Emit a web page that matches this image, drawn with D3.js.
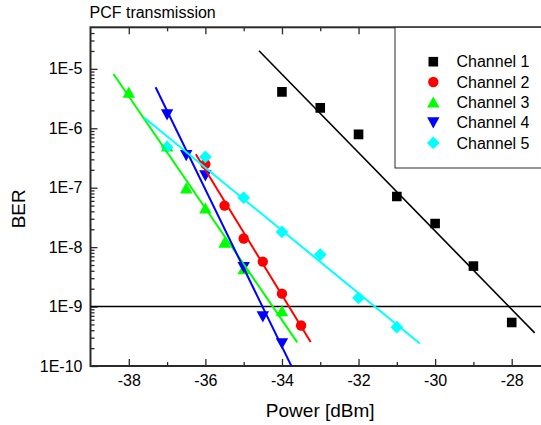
<!DOCTYPE html>
<html>
<head>
<meta charset="utf-8">
<script src="https://cdn.jsdelivr.net/npm/d3@7/dist/d3.min.js"></script>
<style>
  html, body { margin: 0; padding: 0; background: #fff; }
  svg { display: block; font-family: "Liberation Sans", Arial, sans-serif; }
</style>
</head>
<body>
<svg id="chart" width="541" height="425"></svg>
<script>
// Received optical power (dBm) and measured bit error rate per channel
const channelNames = ["Channel 1", "Channel 2", "Channel 3", "Channel 4", "Channel 5"];
const colors = ["#000000", "#ff0000", "#00ff00", "#0000ff", "#00ffff"];
const shapes = ["square", "circle", "triangleUp", "triangleDown", "diamond"];

const power1 = [-34, -33, -32, -31, -30, -29, -28];
const ber1   = [4.1e-6, 2.2e-6, 7.9e-7, 7.1e-8, 2.5e-8, 4.8e-9, 5.4e-10];

const power2 = [-36, -35.5, -35, -34.5, -34, -33.5];
const ber2   = [2.5e-7, 5.0e-8, 1.4e-8, 5.7e-9, 1.65e-9, 4.8e-10];

const power3 = [-38, -37, -36.5, -36, -35.5, -35, -34];
const ber3   = [4.0e-6, 5.0e-7, 9.8e-8, 4.5e-8, 1.2e-8, 4.3e-9, 8.4e-10];

const power4 = [-37, -36.5, -36, -35, -34.5, -34];
const ber4   = [1.7e-6, 3.5e-7, 1.6e-7, 4.6e-9, 6.8e-10, 2.4e-10];

const power5 = [-37, -36, -35, -34, -33, -32, -31];
const ber5   = [4.8e-7, 3.3e-7, 6.8e-8, 1.8e-8, 7.5e-9, 1.4e-9, 4.5e-10];

const xTickValues = [-38, -36, -34, -32, -30, -28];
const xTickLabels = ["-38", "-36", "-34", "-32", "-30", "-28"];
const yTickValues = [1e-10, 1e-9, 1e-8, 1e-7, 1e-6, 1e-5];
const yTickLabels = ["1E-10", "1E-9", "1E-8", "1E-7", "1E-6", "1E-5"];
const berThreshold = 1e-9;

const powers = [power1, power2, power3, power4, power5];
const bers = [ber1, ber2, ber3, ber4, ber5];

const svg = d3.select("#chart");
const plotLeft = 90.5, plotRight = 550, plotTop = 27.3, plotBottom = 366;

const x = d3.scaleLinear().domain([-39, -27]).range([plotLeft, plotRight]);
const y = d3.scaleLog().domain([1e-10, 5e-5]).range([plotBottom, plotTop]);

// marker path generator, r = half-width
function markerPath(shape, r) {
  const p = d3.path();
  if (shape === "square") {
    p.rect(-r, -r, 2 * r, 2 * r);
  } else if (shape === "circle") {
    p.arc(0, 0, r, 0, 2 * Math.PI);
  } else if (shape === "triangleUp") {
    p.moveTo(0, -r * 0.95); p.lineTo(r, r * 0.85); p.lineTo(-r, r * 0.85); p.closePath();
  } else if (shape === "triangleDown") {
    p.moveTo(0, r * 0.95); p.lineTo(r, -r * 0.85); p.lineTo(-r, -r * 0.85); p.closePath();
  } else if (shape === "diamond") {
    p.moveTo(0, -r); p.lineTo(r, 0); p.lineTo(0, r); p.lineTo(-r, 0); p.closePath();
  }
  return p.toString();
}
const markerSize = { square: 4.8, circle: 5.2, triangleUp: 6.2, triangleDown: 6.2, diamond: 6.4 };

svg.append("defs").append("clipPath").attr("id", "plotClip")
  .append("rect").attr("x", plotLeft).attr("y", plotTop)
  .attr("width", plotRight - plotLeft).attr("height", plotBottom - plotTop);

// axis ticks (inward)
const minorX = d3.range(-37, -26, 2);
const minorY = [];
for (let e = -10; e <= -5; e++) for (let k = 2; k <= 9; k++) {
  const v = k * Math.pow(10, e);
  if (v < 5e-5) minorY.push(v);
}

const axisColor = "#2a2a2a";
function styleAxis(g) {
  g.select(".domain").remove();
  g.selectAll(".tick line").attr("stroke", axisColor).attr("stroke-width", 1.3);
  g.selectAll("text").attr("fill", "#000").attr("font-size", 16)
    .attr("font-family", "'Liberation Sans', Arial, sans-serif");
}

svg.append("g").attr("transform", `translate(0,${plotBottom})`)
  .call(d3.axisBottom(x).tickValues(xTickValues).tickFormat((d, i) => xTickLabels[i]).tickSize(-7).tickPadding(9))
  .call(styleAxis);
svg.append("g").attr("transform", `translate(0,${plotBottom})`)
  .call(d3.axisBottom(x).tickValues(minorX).tickFormat("").tickSize(-4))
  .call(styleAxis);
svg.append("g").attr("transform", `translate(0,${plotTop})`)
  .call(d3.axisTop(x).tickValues(xTickValues).tickFormat("").tickSize(-7))
  .call(styleAxis);
svg.append("g").attr("transform", `translate(0,${plotTop})`)
  .call(d3.axisTop(x).tickValues(minorX).tickFormat("").tickSize(-4))
  .call(styleAxis);
svg.append("g").attr("transform", `translate(${plotLeft},0)`)
  .call(d3.axisLeft(y).tickValues(yTickValues).tickFormat((d, i) => yTickLabels[i]).tickSize(-7).tickPadding(8))
  .call(styleAxis);
svg.append("g").attr("transform", `translate(${plotLeft},0)`)
  .call(d3.axisLeft(y).tickValues(minorY).tickFormat("").tickSize(-4))
  .call(styleAxis);

// frame
svg.append("rect").attr("x", plotLeft).attr("y", plotTop)
  .attr("width", plotRight - plotLeft).attr("height", plotBottom - plotTop)
  .attr("fill", "none").attr("stroke", axisColor).attr("stroke-width", 2);

const plot = svg.append("g").attr("clip-path", "url(#plotClip)");

// BER = 1E-9 reference line
plot.append("line")
  .attr("x1", plotLeft).attr("x2", plotRight)
  .attr("y1", y(berThreshold)).attr("y2", y(berThreshold))
  .attr("stroke", "#000").attr("stroke-width", 1.6);

// markers
powers.forEach((pw, i) => {
  plot.append("g").selectAll("path")
    .data(pw.map((p, j) => ({ p, b: bers[i][j] })))
    .join("path")
    .attr("transform", d => `translate(${x(d.p)},${y(d.b)})`)
    .attr("d", markerPath(shapes[i], markerSize[shapes[i]]))
    .attr("fill", colors[i]);
});

// linear fits of log10(BER) against power, extended 10% beyond the data range
powers.forEach((pw, i) => {
  const ls = bers[i].map(Math.log10);
  const mp = d3.mean(pw), ml = d3.mean(ls);
  let sxy = 0, sxx = 0;
  pw.forEach((p, j) => { sxy += (p - mp) * (ls[j] - ml); sxx += (p - mp) * (p - mp); });
  const slope = sxy / sxx;
  const [p0, p1] = d3.extent(pw);
  const ext = 0.1 * (p1 - p0);
  const ends = [p0 - ext, p1 + ext].map(p => ({ p, b: Math.pow(10, ml + slope * (p - mp)) }));
  plot.append("path")
    .datum(ends)
    .attr("d", d3.line().x(d => x(d.p)).y(d => y(d.b)))
    .attr("fill", "none")
    .attr("stroke", colors[i])
    .attr("stroke-width", i === 0 ? 1.6 : 2);
});

// legend
const legend = svg.append("g");
legend.append("rect").attr("x", 395).attr("y", plotTop).attr("width", 170).attr("height", 168 - plotTop)
  .attr("fill", "#fff").attr("stroke", axisColor).attr("stroke-width", 1);
channelNames.forEach((name, i) => {
  const cy = 61.7 + i * 20.3;
  legend.append("path")
    .attr("transform", `translate(433.3,${cy})`)
    .attr("d", markerPath(shapes[i], markerSize[shapes[i]]))
    .attr("fill", colors[i]);
  legend.append("text").attr("x", 456.5).attr("y", cy).attr("dy", "0.36em")
    .attr("font-size", 16).attr("fill", "#000").text(name);
});

// titles
svg.append("text").attr("x", 89.5).attr("y", 17.5).attr("font-size", 16).attr("fill", "#000")
  .text("PCF transmission");
svg.append("text").attr("x", (plotLeft + plotRight) / 2).attr("y", 417).attr("text-anchor", "middle")
  .attr("font-size", 19).attr("fill", "#000").text("Power [dBm]");
svg.append("text").attr("transform", "translate(25,208.8) rotate(-90)").attr("text-anchor", "middle")
  .attr("font-size", 19).attr("fill", "#000").text("BER");
</script>
</body>
</html>
